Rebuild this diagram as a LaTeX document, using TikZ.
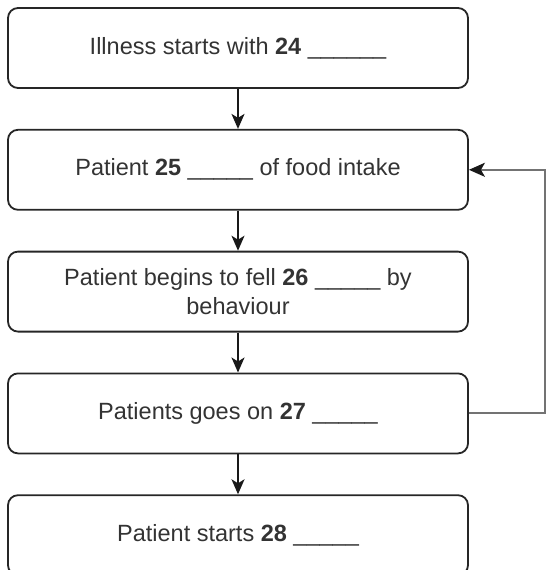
\documentclass[tikz,border=0pt]{standalone}
\usepackage{fontspec}
\setmainfont{Liberation Sans}
\usetikzlibrary{positioning,arrows.meta}

\begin{document}
\begin{tikzpicture}[x=1pt, y=-1pt,
		stepbox/.style={draw=black!85, line width=1.8pt, rounded corners=10pt, minimum width=460pt, minimum height=80pt, align=center, text=black!80, font=\fontsize{23.5}{29}\selectfont},
		flow/.style={draw=black!90, line width=1.8pt, -{Stealth[length=15pt, width=13pt, inset=4pt]}},
		feedback/.style={draw=black!55, line width=2pt, -{Stealth[length=16pt, width=14pt, inset=4pt, color=black!90]}}]
		\useasboundingbox (0,0) rectangle (546,570);
		\node (box1) [stepbox] at (238,48) {Illness starts with \textbf{24} \_\_\_\_\_\_};
		\node (box2) [stepbox, below=40pt of box1] {Patient \textbf{25} \_\_\_\_\_ of food intake};
		\node (box3) [stepbox, below=40pt of box2] {Patient begins to fell \textbf{26} \_\_\_\_\_ by\\behaviour};
		\node (box4) [stepbox, below=40pt of box3] {Patients goes on \textbf{27} \_\_\_\_\_};
		\node (box5) [stepbox, below=40pt of box4] {Patient starts \textbf{28} \_\_\_\_\_};
		\draw[flow] (box1) -- (box2);
		\draw[flow] (box2) -- (box3);
		\draw[flow] (box3) -- (box4);
		\draw[flow] (box4) -- (box5);
		%Rückführung
		\coordinate (turn) at ([xshift=76pt]box4.east);
		\draw[feedback] (box4.east) -- (turn) |- (box2.east);
	\end{tikzpicture}
\end{document}
